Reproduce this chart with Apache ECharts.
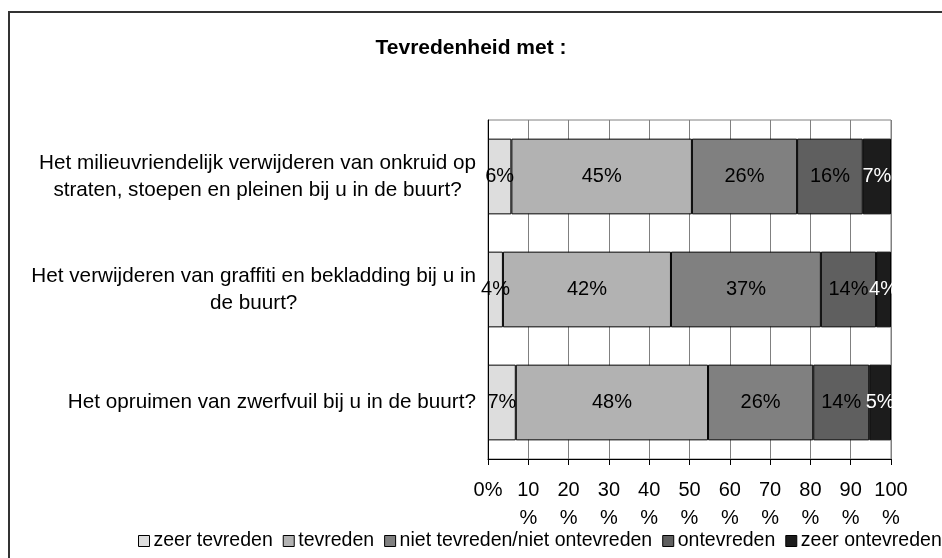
<!DOCTYPE html>
<html>
<head>
<meta charset="utf-8">
<title>Tevredenheid met</title>
<style>
    html,body{margin:0;padding:0;background:#fff;}
    #main{width:942px;height:558px;}
</style>
</head>
<body>
<div id="main"></div>
<script src="https://cdn.jsdelivr.net/npm/echarts@6/dist/echarts.min.js"></script>
<script>
    var vragen = [
        ['Het milieuvriendelijk verwijderen van onkruid op', 'straten, stoepen en pleinen bij u in de buurt?'],
        ['Het verwijderen van graffiti en bekladding bij u in', 'de buurt?'],
        ['Het opruimen van zwerfvuil bij u in de buurt?']
    ];
    var reeksNamen = ['zeer tevreden', 'tevreden', 'niet tevreden/niet ontevreden', 'ontevreden', 'zeer ontevreden'];
    var zeerTevreden   = [5.8, 3.7, 6.9];
    var tevreden       = [44.8, 41.7, 47.7];
    var neutraal       = [26.1, 37.2, 26.1];
    var ontevreden     = [16.3, 13.7, 13.9];
    var zeerOntevreden = [7.0, 3.7, 5.4];
    var kleuren = ['#dddddd', '#b2b2b2', '#808080', '#5f5f5f', '#1c1c1c'];
    var labelKleuren = ['#000', '#000', '#000', '#000', '#fff'];

    var myChart = echarts.init(document.getElementById('main'));
    var fontFam = '"Liberation Sans", Arial, sans-serif';

    // één gestapelde reeks per antwoordcategorie
    var waarden = [zeerTevreden, tevreden, neutraal, ontevreden, zeerOntevreden];
    var series = waarden.map(function (d, i) {
        return {
            name: reeksNamen[i],
            type: 'bar',
            stack: 'totaal',
            barWidth: '67%',
            data: d,
            itemStyle: {color: kleuren[i], borderColor: '#000', borderWidth: 1},
            label: {
                show: true,
                position: 'inside',
                color: labelKleuren[i],
                fontFamily: fontFam,
                fontSize: 20,
                formatter: function (p) { return Math.round(p.value) + '%'; }
            }
        };
    });

    var option = {
        animation: false,
        title: {
            text: 'Tevredenheid met :',
            left: 'center',
            top: 33,
            textStyle: {fontFamily: fontFam, fontSize: 21, fontWeight: 'bold', color: '#000'}
        },
        graphic: [{
            type: 'rect',
            shape: {x: 9, y: 12, width: 945, height: 560},
            style: {fill: 'none', stroke: '#333', lineWidth: 2},
            silent: true, z: -1
        }],
        legend: {
            bottom: 2,
            left: 133,
            width: 860,
            itemWidth: 11,
            itemHeight: 11,
            itemGap: 10,
            icon: 'rect',
            data: reeksNamen.map(function (n, i) {
                return {name: n, itemStyle: {color: kleuren[i], borderColor: '#000', borderWidth: 1}};
            }),
            textStyle: {fontFamily: fontFam, fontSize: 19.5, color: '#000', padding: [0, 0, 0, -1]}
        },
        grid: {
            left: 488, right: 51, top: 120, bottom: 99,
            show: true, borderColor: '#808080', borderWidth: 1
        },
        xAxis: {
            type: 'value',
            min: 0, max: 100, interval: 10,
            axisLine: {show: true, lineStyle: {color: '#000'}},
            axisTick: {show: true, length: 6, lineStyle: {color: '#000'}},
            splitLine: {lineStyle: {color: '#808080'}},
            axisLabel: {
                fontFamily: fontFam, fontSize: 20, color: '#000', margin: 17, lineHeight: 28,
                formatter: function (v) { return v === 0 ? '0%' : v + '\n%'; }
            }
        },
        yAxis: {
            type: 'category',
            inverse: true,
            data: vragen.map(function (r) { return r.join('\n'); }),
            axisLine: {show: true, lineStyle: {color: '#000'}},
            axisTick: {show: false},
            axisLabel: {
                margin: 12,
                align: 'right',
                formatter: function (v) {
                    // regels gecentreerd binnen het rechts uitgelijnde blok
                    return v.split('\n').map(function (l) { return '{c|' + l + '}'; }).join('\n');
                },
                rich: {
                    c: {align: 'center', fontFamily: fontFam, fontSize: 20.7, color: '#000', lineHeight: 27}
                }
            }
        },
        series: series
    };
    myChart.setOption(option);
</script>
</body>
</html>
